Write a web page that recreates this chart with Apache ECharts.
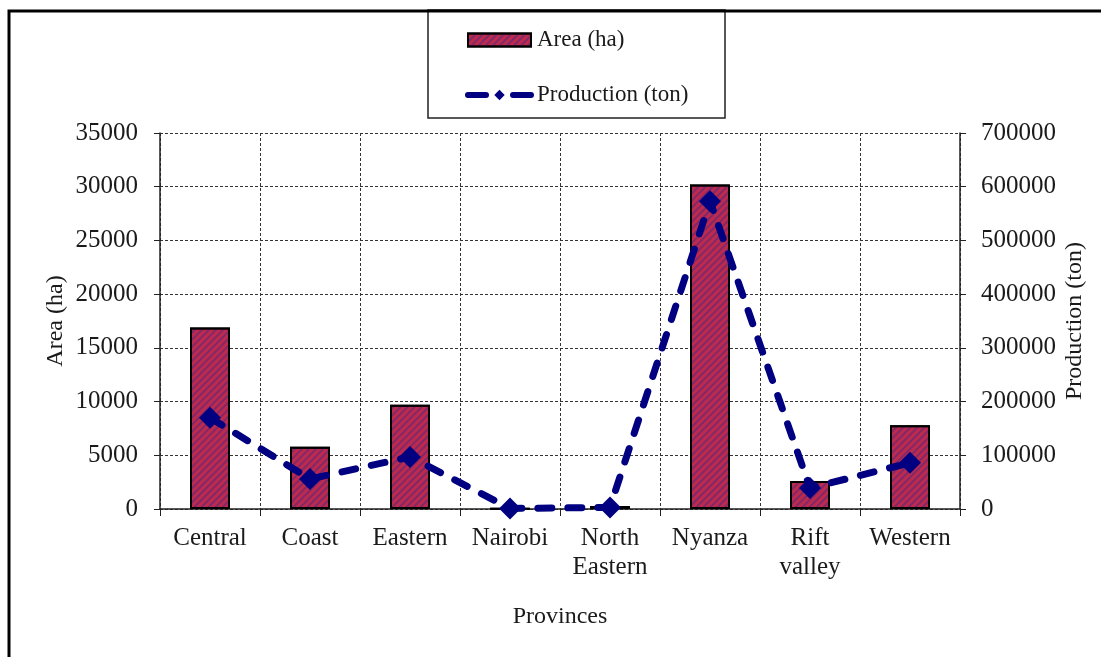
<!DOCTYPE html>
<html>
<head>
<meta charset="utf-8">
<script src="https://cdn.jsdelivr.net/npm/echarts@6/dist/echarts.min.js"></script>
<style>
  html, body { margin: 0; padding: 0; background: #fff; }
  #chart { width: 1101px; height: 657px; }
</style>
</head>
<body>
<div id="chart"></div>
<script>
// Provinces and their area / production figures
const provinces = ['Central', 'Coast', 'Eastern', 'Nairobi', 'North\nEastern', 'Nyanza', 'Rift\nvalley', 'Western'];
const areaHa = [16900, 5800, 9700, 30, 280, 30200, 2600, 7800];
const productionTon = [170000, 56000, 97000, 1000, 3000, 573000, 39000, 86000];

const serif = '"Liberation Serif", "DejaVu Serif", serif';
const textColor = '#1a1a1a';
const gridLine = { show: true, lineStyle: { color: '#333', type: [3, 2], width: 1 } };
const tickFont = { fontFamily: serif, fontSize: 25, color: textColor };
const nameFont = { fontFamily: serif, fontSize: 24, color: textColor };
const plain = v => String(v);

const chart = echarts.init(document.getElementById('chart'));

chart.setOption({
  backgroundColor: '#fff',
  animation: false,
  graphic: [{
    // outer frame
    type: 'rect',
    shape: { x: 9, y: 11, width: 1200, height: 800 },
    style: { fill: 'none', stroke: '#000', lineWidth: 3 },
    silent: true,
    z: 100
  }, {
    // legend box
    type: 'rect',
    shape: { x: 428, y: 10, width: 297, height: 108 },
    style: { fill: '#fff', stroke: '#222', lineWidth: 1.5 },
    silent: true,
    z: 0
  }],
  legend: {
    orient: 'vertical',
    left: 465,
    top: 28,
    padding: 0,
    itemGap: 31,
    itemWidth: 63,
    itemHeight: 13,
    textStyle: { fontFamily: serif, fontSize: 23, color: textColor, lineHeight: 24, padding: [0, 0, 0, 1] },
    data: [
      { name: 'Area (ha)', icon: 'rect' },
      { name: 'Production (ton)', lineStyle: { width: 6, type: [18, 27], cap: 'round' } }
    ]
  },
  grid: { left: 160, right: 141, top: 133, bottom: 148 },
  xAxis: {
    type: 'category',
    data: provinces,
    name: 'Provinces',
    nameLocation: 'middle',
    nameGap: 96,
    nameTextStyle: nameFont,
    axisLine: { lineStyle: { color: '#222', width: 1.5 } },
    axisTick: { show: true, interval: 0, length: 7, lineStyle: { color: '#222' } },
    axisLabel: Object.assign({ interval: 0, margin: 15, lineHeight: 29 }, tickFont),
    splitLine: Object.assign({ interval: 0 }, gridLine)
  },
  yAxis: [{
    type: 'value',
    min: 0,
    max: 35000,
    interval: 5000,
    name: 'Area (ha)',
    nameLocation: 'middle',
    nameGap: 92,
    nameMoveOverlap: false,
    nameTextStyle: nameFont,
    axisLine: { show: true, lineStyle: { color: '#222', width: 1.5 } },
    axisTick: { show: true, length: 6, lineStyle: { color: '#222' } },
    axisLabel: Object.assign({ margin: 22, formatter: plain }, tickFont),
    splitLine: gridLine
  }, {
    type: 'value',
    min: 0,
    max: 700000,
    interval: 100000,
    name: 'Production (ton)',
    nameLocation: 'middle',
    nameGap: 103,
    nameMoveOverlap: false,
    nameTextStyle: nameFont,
    axisLine: { show: true, lineStyle: { color: '#222', width: 1.5 } },
    axisTick: { show: true, length: 6, lineStyle: { color: '#222' } },
    axisLabel: Object.assign({ margin: 21, formatter: plain }, tickFont),
    splitLine: { show: false }
  }],
  series: [{
    name: 'Area (ha)',
    type: 'bar',
    yAxisIndex: 0,
    barWidth: 40,
    data: areaHa,
    itemStyle: {
      color: '#bd2a4e',
      borderColor: '#000',
      borderWidth: 2,
      decal: {
        symbol: 'rect',
        symbolSize: 1,
        dashArrayX: [1, 0],
        dashArrayY: [1.2, 2.2],
        rotation: -Math.PI / 4,
        color: 'rgba(70, 40, 130, 0.5)'
      }
    },
    z: 2
  }, {
    name: 'Production (ton)',
    type: 'line',
    yAxisIndex: 1,
    data: productionTon,
    symbol: 'diamond',
    symbolSize: 22,
    lineStyle: { color: '#000080', width: 7, type: [14, 16], cap: 'round' },
    itemStyle: { color: '#000080' },
    z: 3
  }]
});
</script>
</body>
</html>
